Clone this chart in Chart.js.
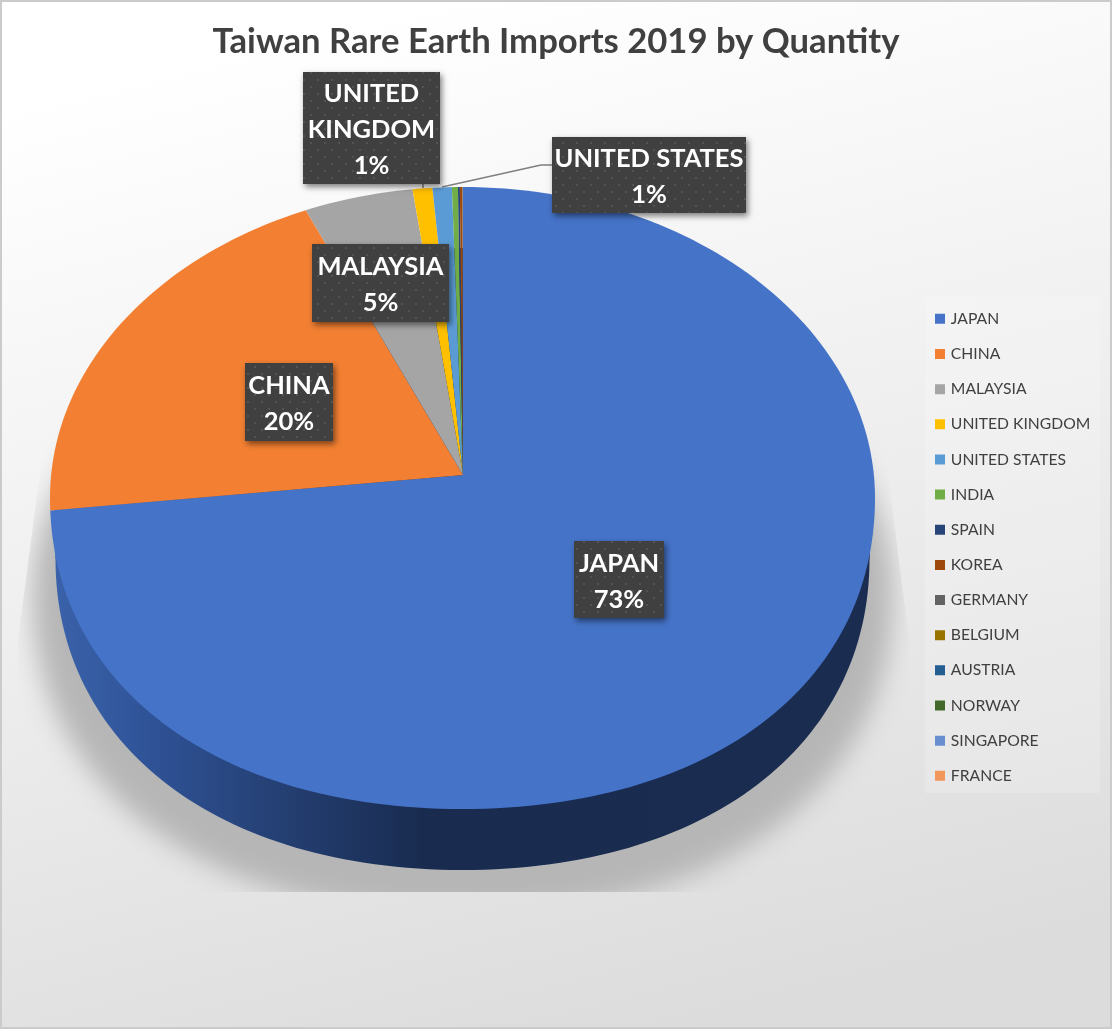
<!DOCTYPE html>
<html>
<head>
<meta charset="utf-8">
<script src="https://cdn.jsdelivr.net/npm/chart.js@4/dist/chart.umd.min.js"></script>
<style>
  html, body { margin: 0; padding: 0; background: #fff; }
  canvas { display: block; }
</style>
</head>
<body>
<canvas id="chart" width="1112" height="1029"></canvas>
<script>
const countries = ["JAPAN", "CHINA", "MALAYSIA", "UNITED KINGDOM", "UNITED STATES", "INDIA", "SPAIN",
  "KOREA", "GERMANY", "BELGIUM", "AUSTRIA", "NORWAY", "SINGAPORE", "FRANCE"];
const shares = [73.2, 20.15, 4.57, 0.83, 0.81, 0.25, 0.08, 0.11, 0.008, 0.005, 0.003, 0.002, 0.001, 0.001];
const colors = ["#4573C8", "#F38032", "#A5A5A5", "#FFC000", "#5B9BD5", "#70AD47", "#264478",
  "#9E480E", "#636363", "#997300", "#255E91", "#43682B", "#698ED0", "#F1975A"];

// the picture is a tilted pie: wedges meet at the apex, the rim is a separate outline
const apex = { x: 463, y: 475 };
const tilt = 0.75;
const rim = { x: 462.5, y: 498, rx: 412.5, ry: 311 };
const base = { x: 462.5, y: 559, rx: 407, ry: 311 };

const labelBoxes = [
  { index: 0, x: 574, y: 541, w: 90, h: 77, lines: ["JAPAN"] },
  { index: 1, x: 245, y: 363, w: 88, h: 78, lines: ["CHINA"] },
  { index: 2, x: 312, y: 244, w: 137, h: 78, lines: ["MALAYSIA"] },
  { index: 3, x: 303, y: 72, w: 137, h: 112, lines: ["UNITED", "KINGDOM"] },
  { index: 4, x: 552, y: 137, w: 194, h: 76, lines: ["UNITED STATES"] }
];

// outline with fuller lower quarters than a true ellipse
function rimPath (ctx, e) {
  const k = 0.5523, low = 0.6;
  ctx.beginPath();
  ctx.moveTo(e.x - e.rx, e.y);
  ctx.bezierCurveTo(e.x - e.rx, e.y - e.ry * k, e.x - e.rx * k, e.y - e.ry, e.x, e.y - e.ry);
  ctx.bezierCurveTo(e.x + e.rx * k, e.y - e.ry, e.x + e.rx, e.y - e.ry * k, e.x + e.rx, e.y);
  ctx.bezierCurveTo(e.x + e.rx, e.y + e.ry * low, e.x + e.rx * low, e.y + e.ry, e.x, e.y + e.ry);
  ctx.bezierCurveTo(e.x - e.rx * low, e.y + e.ry, e.x - e.rx, e.y + e.ry * low, e.x - e.rx, e.y);
  ctx.closePath();
}

function dotPattern (ctx) {
  const tile = document.createElement("canvas");
  tile.width = 14;
  tile.height = 14;
  const t = tile.getContext("2d");
  t.fillStyle = "#404040";
  t.fillRect(0, 0, 14, 14);
  t.fillStyle = "#535353";
  t.fillRect(2, 2, 2, 2);
  t.fillRect(9, 9, 2, 2);
  return ctx.createPattern(tile, "repeat");
}

const tiltedPie = {
  id: "tiltedPie",
  afterLayout (chart) {
    // pin the pie centre, legend and title where the reference has them
    chart.chartArea.left = apex.x - 400;
    chart.chartArea.right = apex.x + 400;
    chart.chartArea.top = apex.y - 400;
    chart.chartArea.bottom = apex.y + 400;
    chart.chartArea.width = 800;
    chart.chartArea.height = 800;
    const legend = chart.legend;
    legend.left = 937 - legend.options.labels.padding;
    legend.top = 311 - legend.options.labels.padding;
    legend.bottom = 1000;
    chart.titleBlock.left = 0;
    chart.titleBlock.right = 1112;
  },
  beforeDraw (chart) {
    const ctx = chart.ctx;
    const bg = ctx.createLinearGradient(430, 0, 680, 1029);
    bg.addColorStop(0, "#ffffff");
    bg.addColorStop(0.45, "#f0f0f0");
    bg.addColorStop(1, "#dcdcdc");
    ctx.fillStyle = bg;
    ctx.fillRect(0, 0, 1112, 1029);
    ctx.strokeStyle = "#cbcbcb";
    ctx.lineWidth = 4;
    ctx.strokeRect(0, 0, 1112, 1029);
    ctx.fillStyle = "rgba(255,255,255,0.18)";
    ctx.fillRect(925, 297, 175, 496);
  },
  beforeDatasetsDraw (chart) {
    const ctx = chart.ctx;

    // soft shadow under the pie, cut off flat at the bottom
    ctx.save();
    ctx.beginPath();
    ctx.moveTo(48, 410);
    ctx.lineTo(880, 410);
    ctx.lineTo(909, 640);
    ctx.lineTo(909, 892);
    ctx.lineTo(18, 892);
    ctx.lineTo(18, 640);
    ctx.closePath();
    ctx.clip();
    ctx.filter = "blur(13px)";
    ctx.fillStyle = "#b6b6b6";
    rimPath(ctx, { x: 462.5, y: 596, rx: 430, ry: 320 });
    ctx.fill();
    ctx.restore();

    // side wall
    const wall = ctx.createLinearGradient(base.x - base.rx, 0, base.x + base.rx, 0);
    wall.addColorStop(0, "#3a62aa");
    wall.addColorStop(0.12, "#2f5296");
    wall.addColorStop(0.25, "#264278");
    wall.addColorStop(0.45, "#192c50");
    wall.addColorStop(1, "#1a2c50");
    ctx.fillStyle = wall;
    rimPath(ctx, base);
    ctx.fill();
    ctx.beginPath();
    ctx.rect(base.x - base.rx, rim.y, base.rx * 2, base.y - rim.y);
    ctx.fill();

    // arcs are cut by the rim and squashed about the apex
    ctx.save();
    rimPath(ctx, rim);
    ctx.clip();
    ctx.translate(apex.x, apex.y);
    ctx.scale(1, tilt);
    ctx.translate(-apex.x, -apex.y);
  },
  afterDatasetsDraw (chart) {
    const ctx = chart.ctx;
    ctx.restore();

    // leader lines
    ctx.strokeStyle = "#7f7f7f";
    ctx.lineWidth = 1.5;
    ctx.beginPath();
    ctx.moveTo(423, 184);
    ctx.lineTo(423, 188);
    ctx.moveTo(442, 187);
    ctx.lineTo(541, 165);
    ctx.lineTo(552, 165);
    ctx.stroke();

    const total = shares.reduce((a, b) => a + b, 0);
    const pattern = dotPattern(ctx);
    ctx.textAlign = "center";
    ctx.textBaseline = "middle";
    for (const box of labelBoxes) {
      ctx.save();
      ctx.shadowColor = "rgba(0,0,0,0.5)";
      ctx.shadowBlur = 6;
      ctx.shadowOffsetX = 2;
      ctx.shadowOffsetY = 3;
      ctx.fillStyle = "#404040";
      ctx.fillRect(box.x, box.y, box.w, box.h);
      ctx.restore();
      ctx.fillStyle = pattern;
      ctx.fillRect(box.x, box.y, box.w, box.h);

      const lines = box.lines.concat(Math.round(shares[box.index] / total * 100) + "%");
      const lineHeight = 36;
      const top = box.y + box.h / 2 - lineHeight * (lines.length - 1) / 2 + 2;
      ctx.fillStyle = "#ffffff";
      ctx.font = "bold 25.5px Lato";
      lines.forEach((line, i) => {
        ctx.fillText(line, box.x + box.w / 2, top + i * lineHeight);
      });
    }
  }
};

new Chart(document.getElementById("chart"), {
  type: "pie",
  plugins: [tiltedPie],
  data: {
    labels: countries,
    datasets: [{
      data: shares,
      backgroundColor: colors,
      borderWidth: 0,
      clip: false
    }]
  },
  options: {
    responsive: false,
    animation: false,
    radius: 640,
    events: [],
    plugins: {
      tooltip: { enabled: false },
      title: {
        display: true,
        text: "Taiwan Rare Earth Imports 2019 by Quantity",
        color: "#404040",
        font: { family: "Lato", size: 34.65, weight: "bold" },
        padding: { top: 21, bottom: 10 }
      },
      legend: {
        position: "right",
        align: "start",
        labels: {
          boxWidth: 6,
          boxHeight: 6,
          padding: 19.45,
          color: "#404040",
          font: { family: "Lato", size: 15.7 },
          generateLabels (chart) {
            return Chart.overrides.pie.plugins.legend.labels.generateLabels(chart).map(item => {
              item.strokeStyle = item.fillStyle;
              item.lineWidth = 4;
              return item;
            });
          }
        }
      }
    }
  }
});
</script>
</body>
</html>
